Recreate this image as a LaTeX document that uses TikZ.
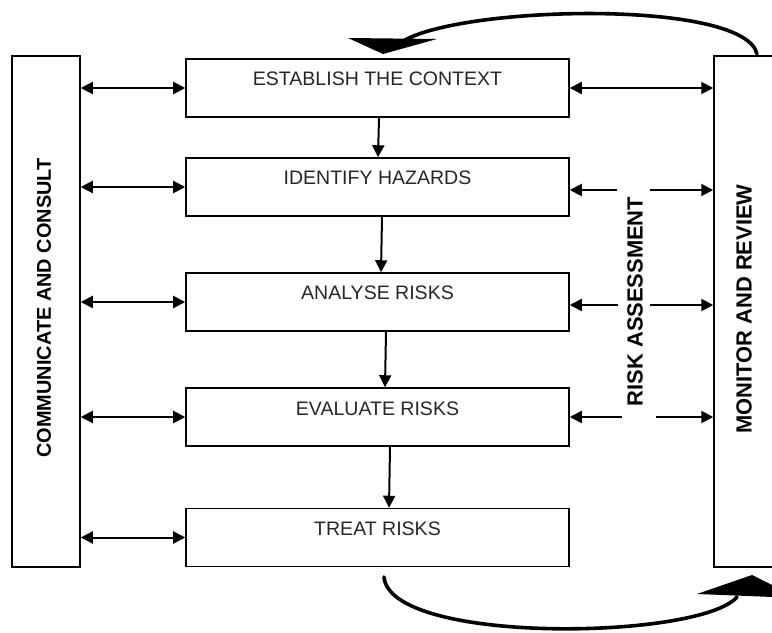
\documentclass[tikz,border=0pt]{standalone}
\usepackage{fontspec}
\setmainfont{Liberation Sans}
\usetikzlibrary{arrows.meta}

\begin{document}
\begin{tikzpicture}[
  x=0.5bp, y=-0.5bp,
  stepbox/.style={draw, line width=0.75bp, inner sep=0pt,
    minimum width=191.5bp, text height=13.5bp, text depth=15.5bp,
    font=\fontsize{9.8}{11}\selectfont, text=black!85},
  sidebox/.style={draw, line width=0.75bp, inner sep=0pt,
    minimum width=34bp, minimum height=255.5bp},
  sidetext/.style={rotate=90, font=\bfseries\fontsize{11}{13}\selectfont},
  arr/.style={line width=1bp, -{Triangle[length=6bp,width=6bp]}},
  dbl/.style={line width=1bp, {Triangle[length=6bp,width=6bp]}-{Triangle[length=6bp,width=6bp]}},
  loop/.style={line width=1.8bp, line cap=round},
]
\useasboundingbox (0,0) rectangle (772,633);
\clip (0,0) rectangle (772,633);

% side panels
\node[sidebox] (cc) at (46,311.5) {};
\node[sidetext, font=\bfseries\fontsize{10}{12}\selectfont] (cct) at (44,308) {COMMUNICATE AND CONSULT};
\node[sidebox] (mr) at (748,311.5) {};
\node[sidetext] (mrt) at (744,309) {MONITOR AND REVIEW};
\node[sidetext] (rat) at (635,301.5) {RISK ASSESSMENT};

% process steps
\node[stepbox] (b1) at (377.5,88) {ESTABLISH THE CONTEXT};
\node[stepbox] (b2) at (377.5,187) {IDENTIFY HAZARDS};
\node[stepbox] (b3) at (377.5,302) {ANALYSE RISKS};
\node[stepbox] (b4) at (377.5,417) {EVALUATE RISKS};
\node[stepbox] (b5) at (377.5,537.5) {TREAT RISKS};

% flow between steps
\coordinate (t1) at (379,0); \coordinate (h1) at (378,0);
\coordinate (t2) at (382,0); \coordinate (h2) at (381,0);
\coordinate (t3) at (386,0); \coordinate (h3) at (385,0);
\coordinate (t4) at (390,0); \coordinate (h4) at (389,0);
\draw[arr] (b1.south -| t1) -- (b2.north -| h1);
\draw[arr] (b2.south -| t2) -- (b3.north -| h2);
\draw[arr] (b3.south -| t3) -- (b4.north -| h3);
\draw[arr] (b4.south -| t4) -- (b5.north -| h4);

% communication links
\foreach \b in {b1,b2,b3,b4,b5}
  \draw[dbl] (\b.west -| cc.east) -- (\b.west);

% monitoring links
\draw[dbl] (b1.east) -- (b1.east -| mr.west);
\coordinate (l2) at (617,190); \coordinate (r2) at (650,190);
\coordinate (l3) at (618,305); \coordinate (r3) at (650,305);
\coordinate (l4) at (622,417); \coordinate (r4) at (656,417);
\foreach \i/\b in {2/b2,3/b3,4/b4}{
  \draw[arr] (l\i) -- (l\i -| \b.east);
  \draw[arr] (r\i) -- (r\i -| mr.west);
}

% feedback loops
\coordinate (ts) at (757,54);
\coordinate (te) at (405,40);
\draw[loop] (ts) .. controls (745,0) and (470,5) .. (te);
\fill (348,38) -- (437,39) -- (383,54) -- cycle;

\coordinate (bs) at (384,577);
\coordinate (be) at (737,597);
\draw[loop] (bs) .. controls (390,645) and (700,640) .. (be);
\fill (697,594) -- (752,575) -- (798,598) -- cycle;
\end{tikzpicture}
\end{document}
